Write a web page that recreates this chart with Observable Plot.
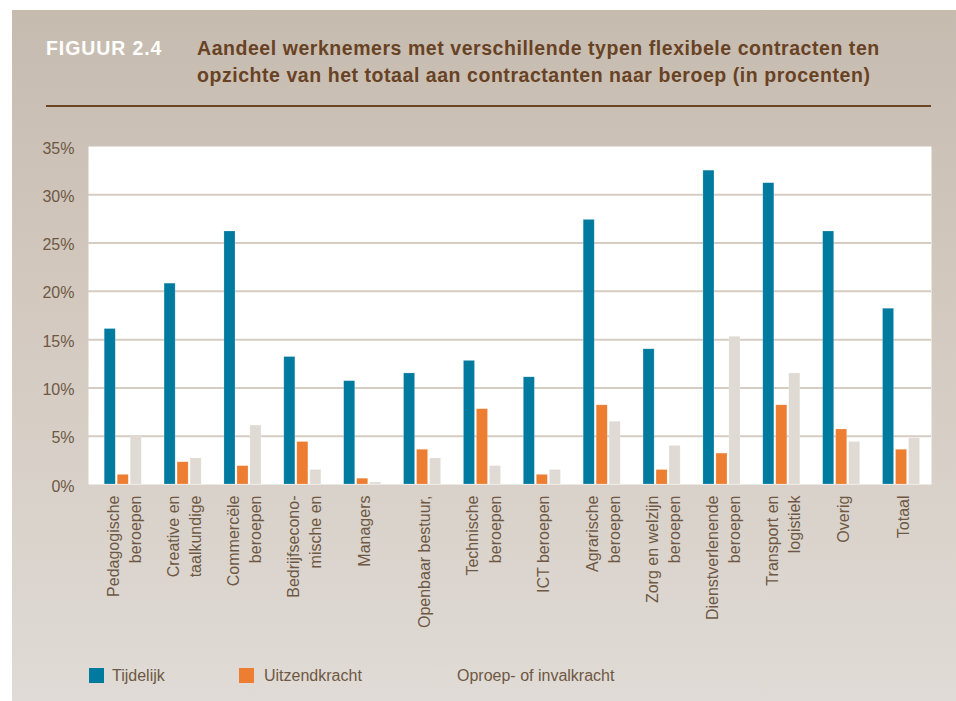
<!DOCTYPE html>
<html>
<head>
<meta charset="utf-8">
<script src="https://cdn.jsdelivr.net/npm/d3@7"></script>
<script src="https://cdn.jsdelivr.net/npm/@observablehq/plot@0.6"></script>
<style>
  html, body { margin: 0; padding: 0; background: #ffffff; }
  #page { position: relative; width: 956px; height: 701px; overflow: hidden; background: #ffffff; }
  #panel { position: absolute; left: 12px; top: 10px; right: 0; bottom: 0;
    background: linear-gradient(to bottom, #c6bbaf 0%, #d2c8be 40%, #e0dbd6 100%); }
  .fig { position: absolute; left: 46px; top: 35px; font-family: "Liberation Sans", Arial, sans-serif;
    font-weight: bold; font-size: 19.5px; color: #ffffff; letter-spacing: 0.9px; line-height: 27px; }
  .title { position: absolute; left: 197px; top: 35px; font-family: "Liberation Sans", Arial, sans-serif;
    font-weight: bold; font-size: 19.5px; color: #684224; letter-spacing: 0.55px; line-height: 27px; white-space: nowrap; }
  .rule { position: absolute; left: 46px; width: 885px; top: 105px; height: 2px; background: #6b4526; }
  #chart { position: absolute; left: 0; top: 130px; }
  .leg { position: absolute; top: 668px; font-family: "Liberation Sans", Arial, sans-serif; font-size: 16px; color: #6e5843; }
  .leg .sw { position: absolute; top: 0; width: 15px; height: 15px; }
  .leg .lb { position: absolute; top: -2px; white-space: nowrap; line-height: 20px; }
</style>
</head>
<body>
<div id="page">
  <div id="panel"></div>
  <div class="fig">FIGUUR 2.4</div>
  <div class="title">Aandeel werknemers met verschillende typen flexibele contracten ten<br>opzichte van het totaal aan contractanten naar beroep (in procenten)</div>
  <div class="rule"></div>
  <div id="chart"></div>
  <div id="legend"></div>
</div>
<script>
const categories = [
  "Pedagogische\nberoepen",
  "Creative en\ntaalkundige",
  "Commercële\nberoepen",
  "Bedrijfsecono-\nmische en",
  "Managers",
  "Openbaar bestuur,",
  "Technische\nberoepen",
  "ICT beroepen",
  "Agrarische\nberoepen",
  "Zorg en welzijn\nberoepen",
  "Dienstverlenende\nberoepen",
  "Transport en\nlogistiek",
  "Overig",
  "Totaal"
];
const seriesNames = ["Tijdelijk", "Uitzendkracht", "Oproep- of invalkracht"];
const tijdelijk = [16.1, 20.8, 26.2, 13.2, 10.7, 11.5, 12.8, 11.1, 27.4, 14.0, 32.5, 31.2, 26.2, 18.2];
const uitzendkracht = [1.0, 2.3, 1.9, 4.4, 0.6, 3.6, 7.8, 1.0, 8.2, 1.5, 3.2, 8.2, 5.7, 3.6];
const oproep = [4.9, 2.7, 6.1, 1.5, 0.2, 2.7, 1.9, 1.5, 6.5, 4.0, 15.3, 11.5, 4.4, 4.8];
const yTicks = [0, 5, 10, 15, 20, 25, 30, 35];
const gridTicks = [5, 10, 15, 20, 25, 30];
const colors = ["#007b9f", "#ec7d31", "#dfdad3"];

const seriesValues = [tijdelijk, uitzendkracht, oproep];
const tables = seriesValues.map((vals, s) => categories.map((c, i) => ({cat: c, value: vals[i], series: seriesNames[s]})));
const offsets = [-13, 0, 13];
const bandInset = 24.4;

const chart = Plot.plot({
  width: 956,
  height: 520,
  marginLeft: 88,
  marginRight: 25,
  marginTop: 16,
  marginBottom: 166,
  style: {background: "transparent", color: "#6e5843", fontFamily: "'Liberation Sans', Arial, sans-serif", fontSize: "16px", overflow: "visible"},
  x: {domain: categories, paddingInner: 0, paddingOuter: 0.04, align: 1, round: false, axis: null},
  y: {domain: [0, 35], axis: null},
  marks: [
    Plot.frame({fill: "#ffffff", stroke: null}),
    Plot.gridY(gridTicks, {stroke: "#d6ccc2", strokeWidth: 2, strokeOpacity: 1}),
    ...tables.map((t, s) => Plot.barY(t, {x: "cat", y: "value", fill: colors[s], dx: offsets[s], insetLeft: bandInset, insetRight: bandInset, stroke: "#ffffff", strokeOpacity: 0.35, strokeWidth: 0.6})),
    Plot.axisY(yTicks, {tickSize: 0, tickPadding: 14, tickFormat: d => d + "%", fontSize: 16, fill: "#6e5843", label: null, dy: 2}),
    Plot.axisX({tickSize: 0, tickPadding: 11, tickRotate: -90, fontSize: 16, lineHeight: 1.38, fill: "#6e5843", label: null})
  ]
});
document.getElementById("chart").appendChild(chart);

const legend = document.getElementById("legend");
const legX = [[89, 112], [239, 264], [432, 457]];
seriesNames.forEach((name, i) => {
  const item = document.createElement("div");
  item.className = "leg";
  item.style.left = "0px";
  item.innerHTML = `<div class="sw" style="left:${legX[i][0]}px;background:${colors[i]}"></div><div class="lb" style="left:${legX[i][1]}px">${name}</div>`;
  legend.appendChild(item);
});
</script>
</body>
</html>
